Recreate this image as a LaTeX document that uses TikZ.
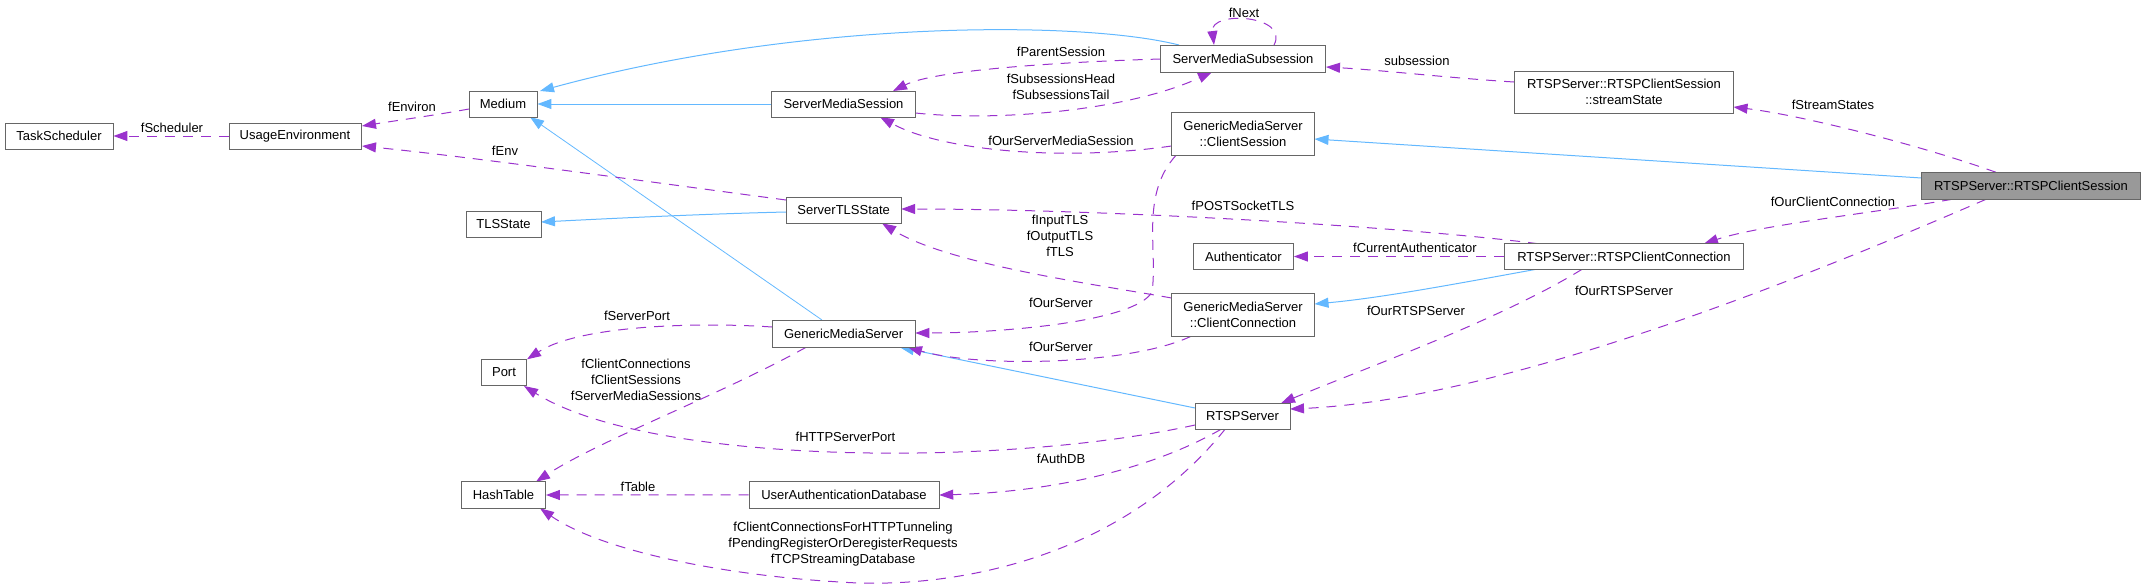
\documentclass[tikz,border=0pt]{standalone}
\usepackage{fontspec}
\setmainfont{Liberation Sans}
\usetikzlibrary{arrows.meta,calc}
\definecolor{edgepurple}{HTML}{9A32CD}
\definecolor{edgeblue}{HTML}{63B8FF}
\definecolor{boxborder}{HTML}{666666}
\definecolor{focusfill}{HTML}{999999}
\pgfdeclarelayer{background}
\pgfsetlayers{background,main}
\begin{document}
\begin{tikzpicture}[x=1pt,y=-1pt,
  every node/.style={font=\fontsize{13}{16}\selectfont},
  clsbox/.style={draw=boxborder, line width=0.9pt, fill=white, inner sep=0pt, align=center, minimum height=26pt},
  focusbox/.style={clsbox, fill=focusfill},
  refedge/.style={draw=edgepurple, line width=1pt, dash pattern=on 10pt off 8pt, -{Triangle[length=14pt,width=10pt]}},
  inhedge/.style={draw=edgeblue, line width=1pt, -{Triangle[length=14pt,width=10pt]}},
  elabel/.style={inner sep=0pt, align=center}
]
\useasboundingbox (0,0) rectangle (2145,587);

% ---- nodes ----
\node[clsbox, minimum width=108pt] (task) at (59,136) {TaskScheduler};
\node[clsbox, minimum width=132pt] (usage) at (295,136) {UsageEnvironment};
\node[clsbox, minimum width=68pt] (medium) at (503,104) {Medium};
\node[clsbox, minimum width=75pt] (tls) at (503.5,224) {TLSState};
\node[clsbox, minimum width=45pt] (port) at (504,372.5) {Port};
\node[clsbox, minimum width=84pt, minimum height=27pt] (hash) at (503.5,495) {HashTable};
\node[clsbox, minimum width=144pt] (sms) at (843.5,104) {ServerMediaSession};
\node[clsbox, minimum width=115pt] (stls) at (843.7,210) {ServerTLSState};
\node[clsbox, minimum width=143pt, minimum height=27pt] (gms) at (843.7,333.8) {GenericMediaServer};
\node[clsbox, minimum width=190pt, minimum height=27pt] (uad) at (844,494.8) {UserAuthenticationDatabase};
\node[clsbox, minimum width=165pt, minimum height=27pt] (smsub) at (1243,58.5) {ServerMediaSubsession};
\node[clsbox, minimum width=143pt, minimum height=43pt] (cs) at (1243,134) {GenericMediaServer\\::ClientSession};
\node[clsbox, minimum width=100pt] (auth) at (1243.4,256.5) {Authenticator};
\node[clsbox, minimum width=143pt, minimum height=43pt] (cc) at (1243,314.8) {GenericMediaServer\\::ClientConnection};
\node[clsbox, minimum width=95pt] (rtsp) at (1242.5,416.3) {RTSPServer};
\node[clsbox, minimum width=219pt, minimum height=42pt] (ss) at (1624,92.3) {RTSPServer::RTSPClientSession\\::streamState};
\node[clsbox, minimum width=239pt] (rcc) at (1624,256.5) {RTSPServer::RTSPClientConnection};
\node[focusbox, minimum width=219pt, minimum height=27pt] (rcs) at (2031,185.8) {RTSPServer::RTSPClientSession};

\begin{pgfonlayer}{background}
% ---- inheritance edges ----
\draw[inhedge] ($(smsub)+(-64,-13.5)$) .. controls (1080,20) and (800,20) .. ($(medium)+(37,-13)$);
\draw[inhedge] (sms.west) -- (medium.east);
\draw[inhedge, line width=0.8pt] ($(gms)+(-21.7,-13.8)$) -- ($(medium)+(27,13)$);
\draw[inhedge] ($(stls)+(-57.7,2)$) .. controls (700,214) and (600,219) .. ($(tls)+(37.5,-2)$);
\draw[inhedge] ($(rcs)+(-109.4,-7.8)$) -- ($(cs)+(71.5,5)$);
\draw[inhedge] ($(rcc)+(-88,12.8)$) .. controls (1450,285) and (1380,298) .. ($(cc)+(71.5,-10.8)$);
\draw[inhedge] ($(rtsp)+(-47.5,-8.3)$) -- ($(gms)+(56.3,13.5)$);

% ---- usage edges ----
\draw[refedge] (usage.west) -- (task.east);
\draw[refedge] ($(medium)+(-34,5)$) .. controls (430,116) and (400,120) .. ($(usage)+(67,-10)$);
\draw[refedge] ($(stls)+(-57.7,-10)$) .. controls (650,182) and (480,158) .. ($(usage)+(67,10)$);
\draw[refedge] ($(smsub)+(31,-13.5)$) .. controls (1290,15) and (1210,10) .. ($(smsub)+(-29,-13.5)$);
\draw[refedge] ($(smsub)+(-82.5,0.5)$) .. controls (1060,62) and (935,70) .. ($(sms)+(49.5,-13)$);
\draw[refedge] ($(sms)+(72,9)$) .. controls (1000,122) and (1130,110) .. ($(smsub)+(-31,13.5)$);
\draw[refedge] ($(cs)+(-71.5,12)$) .. controls (1060,162) and (940,150) .. ($(sms)+(36.5,13)$);
\draw[refedge] ($(ss)+(-110,-10.3)$) .. controls (1450,78) and (1380,70) .. ($(smsub)+(83,8.5)$);
\draw[refedge] ($(rcs)+(-35,-13.5)$) .. controls (1920,145) and (1800,115) .. ($(ss)+(109.5,14.7)$);
\draw[refedge] ($(rcs)+(-79,13.5)$) .. controls (1880,212) and (1760,225) .. ($(rcc)+(80,-12.8)$);
\draw[refedge] ($(rcs)+(-45,13.5)$) .. controls (1800,280) and (1500,400) .. ($(rtsp)+(47.5,-7.3)$);
\draw[refedge] ($(rcc)+(-86,-12.8)$) .. controls (1400,226) and (1100,209) .. ($(stls)+(57.5,-1)$);
\draw[refedge] (rcc.west) -- (auth.east);
\draw[refedge] ($(rcc)+(-42,12.8)$) .. controls (1500,320) and (1360,370) .. ($(rtsp)+(38.5,-13)$);
\draw[refedge] ($(cc)+(-71.5,-16.8)$) .. controls (1100,285) and (950,265) .. ($(stls)+(38.3,13.3)$);
\coordinate (bendA) at (1152,292);
\draw[refedge] ($(cs)+(-67,21.3)$) .. controls (1140,195) and (1158,250) .. (bendA) .. controls (1135,322) and (1000,333) .. ($(gms)+(71.6,-0.8)$);
\draw[refedge] ($(cc)+(-52,21.5)$) .. controls (1130,365) and (980,368) .. ($(gms)+(64.3,13.5)$);
\draw[refedge] ($(gms)+(-71.7,-6.8)$) .. controls (700,322) and (580,325) .. ($(port)+(23,-13.2)$);
\draw[refedge] ($(gms)+(-37.7,13.5)$) .. controls (720,395) and (600,440) .. ($(hash)+(32.5,-13.3)$);
\draw[refedge] ($(rtsp)+(-47.5,8.7)$) .. controls (1000,468) and (650,465) .. ($(port)+(20,13.5)$);
\draw[refedge] (uad.west) -- (hash.east);
\draw[refedge] ($(rtsp)+(-21.5,13)$) .. controls (1150,470) and (1050,492) .. ($(uad)+(95.2,0.2)$);
\coordinate (bendB) at (840,582);
\draw[refedge] ($(rtsp)+(-17.5,13)$) .. controls (1120,560) and (950,590) .. (bendB) .. controls (720,575) and (600,550) .. ($(hash)+(36.5,13.3)$);
\end{pgfonlayer}

% ---- edge labels ----
\node[elabel] (lSched) at (172,128) {fScheduler};
\node[elabel] (lEnviron) at (412,107) {fEnviron};
\node[elabel] (lEnv) at (505,151) {fEnv};
\node[elabel] (lNext) at (1244,13) {fNext};
\node[elabel] (lParent) at (1061,52) {fParentSession};
\node[elabel] (lSubs) at (1061,86.7) {fSubsessionsHead\\fSubsessionsTail};
\node[elabel] (lOSMS) at (1061,141) {fOurServerMediaSession};
\node[elabel] (lSubsession) at (1417,61) {subsession};
\node[elabel] (lStream) at (1833,105) {fStreamStates};
\node[elabel] (lOCC) at (1833,202) {fOurClientConnection};
\node[elabel] (lPOST) at (1243,206) {fPOSTSocketTLS};
\node[elabel] (lTLS) at (1060,236.3) {fInputTLS\\fOutputTLS\\fTLS};
\node[elabel] (lAuth) at (1415,248) {fCurrentAuthenticator};
\node[elabel] (lORS1) at (1624,291) {fOurRTSPServer};
\node[elabel] (lORS2) at (1416,311) {fOurRTSPServer};
\node[elabel] (lOS1) at (1061,303) {fOurServer};
\node[elabel] (lOS2) at (1061,347) {fOurServer};
\node[elabel] (lSPort) at (637,316) {fServerPort};
\node[elabel] (lCC) at (636,379.7) {fClientConnections\\fClientSessions\\fServerMediaSessions};
\node[elabel] (lHTTP) at (845.5,437) {fHTTPServerPort};
\node[elabel] (lTable) at (638,487) {fTable};
\node[elabel] (lAuthDB) at (1061,459) {fAuthDB};
\node[elabel] (lTunnel) at (843,543.7) {fClientConnectionsForHTTPTunneling\\fPendingRegisterOrDeregisterRequests\\fTCPStreamingDatabase};
\end{tikzpicture}
\end{document}
